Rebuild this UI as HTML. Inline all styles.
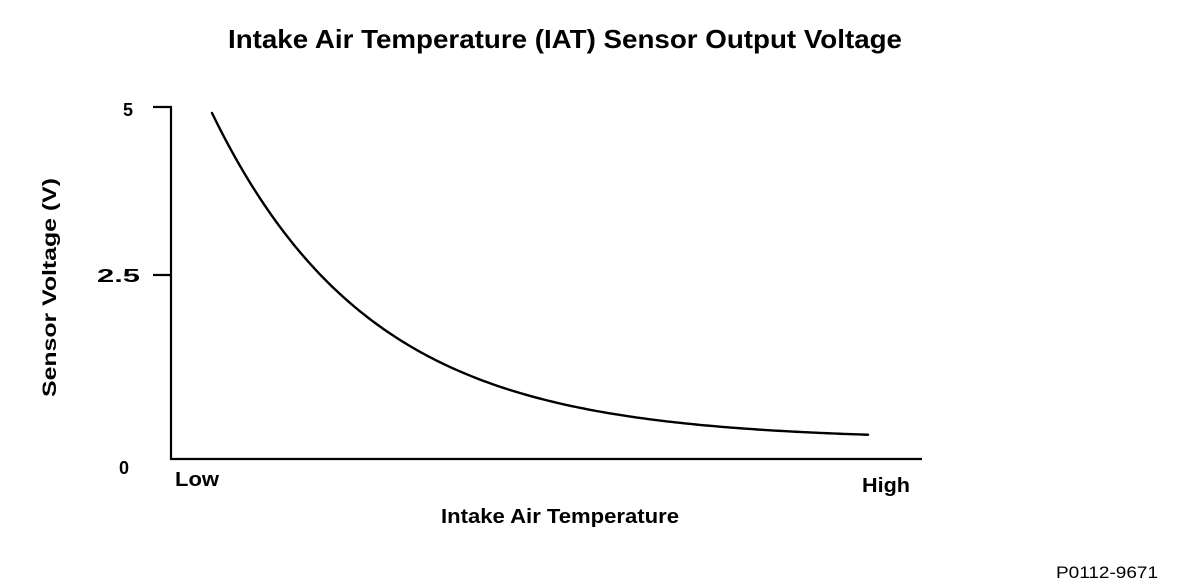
<!DOCTYPE html>
<html><head><style>
html,body{margin:0;padding:0;background:#fff;}
svg{display:block;}
text{font-family:"Liberation Sans",Arial,sans-serif;font-weight:bold;fill:#000;}
</style></head><body>
<svg width="1184" height="588" viewBox="0 0 1184 588">
<text x="228" y="48" font-size="26" textLength="674" lengthAdjust="spacingAndGlyphs">Intake Air Temperature (IAT) Sensor Output Voltage</text>
<path d="M153 107 H171 V459 H922" fill="none" stroke="#000" stroke-width="2.2"/>
<path d="M153 275 H171" stroke="#000" stroke-width="2.2"/>
<text x="128" y="116" font-size="18" text-anchor="middle">5</text>
<text x="97" y="282" font-size="18" textLength="43" lengthAdjust="spacingAndGlyphs">2.5</text>
<text x="124" y="474" font-size="18" text-anchor="middle">0</text>
<text x="175" y="486" font-size="20" textLength="44" lengthAdjust="spacingAndGlyphs">Low</text>
<text x="862" y="492" font-size="20" textLength="48" lengthAdjust="spacingAndGlyphs">High</text>
<text x="441" y="523" font-size="20" textLength="238" lengthAdjust="spacingAndGlyphs">Intake Air Temperature</text>
<text transform="translate(56,397) rotate(-90)" font-size="19" textLength="219" lengthAdjust="spacingAndGlyphs">Sensor Voltage (V)</text>
<text x="1056" y="578" font-size="17" style="font-weight:normal" textLength="102" lengthAdjust="spacingAndGlyphs">P0112-9671</text>
<path id="c" fill="none" stroke="#000" stroke-width="2.4" stroke-linecap="round" stroke-linejoin="round" d=""/>
<script>
var d="";for(var x=212;x<=868;x+=4){var y=440-327*Math.exp(-0.0063*(x-212));d+=(x==212?"M":"L")+x+" "+y.toFixed(2)+" ";}
document.getElementById("c").setAttribute("d",d);
</script>
</svg>
</body></html>
